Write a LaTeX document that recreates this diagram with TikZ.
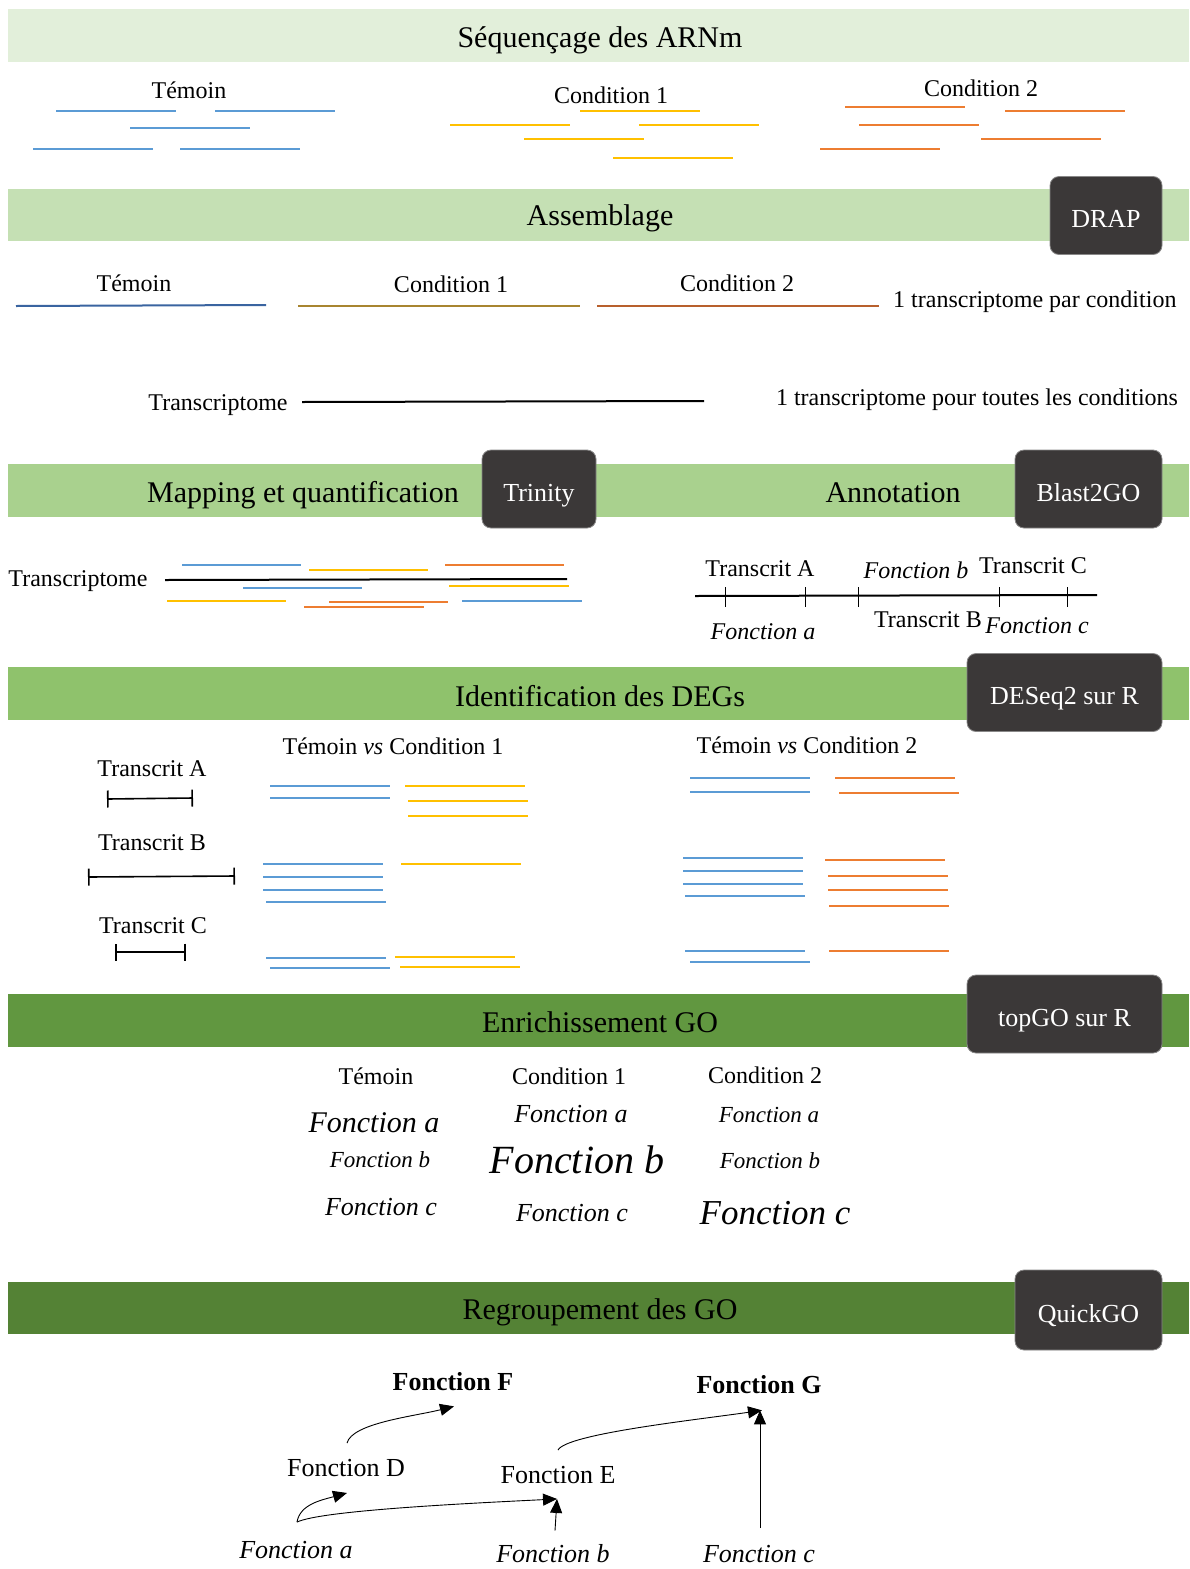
\documentclass[tikz,border=0pt]{standalone}
\usepackage{fontspec}
\setmainfont{Liberation Serif}
\usetikzlibrary{arrows.meta}
\newcommand{\myfs}[1]{\fontsize{#1}{#1}\selectfont}
\definecolor{bandA}{HTML}{E2EFDA}
\definecolor{bandB}{HTML}{C5E0B4}
\definecolor{bandC}{HTML}{A9D18E}
\definecolor{bandD}{HTML}{8FC26C}
\definecolor{bandE}{HTML}{619740}
\definecolor{bandF}{HTML}{548235}
\definecolor{toolgray}{HTML}{3B3838}
\definecolor{rblue}{HTML}{5B9BD5}
\definecolor{ryellow}{HTML}{FFC000}
\definecolor{rorange}{HTML}{ED7D31}
\definecolor{tblue}{HTML}{3A64A0}
\definecolor{tolive}{HTML}{A88530}
\definecolor{tbrown}{HTML}{B8602D}
\tikzset{
  band/.style={fill=#1, draw=none, minimum width=1181pt, minimum height=53pt, inner sep=0pt, anchor=north west},
  tool/.style={fill=toolgray, draw=toolgray!60!white, line width=0.8pt, rounded corners=9pt, text=white, font=\myfs{26}, inner sep=0pt, minimum height=78pt, text height=26pt, text depth=2pt},
  title/.style={font=\myfs{30}, inner sep=0pt},
  lab/.style={font=\myfs{24}, inner sep=0pt},
  ital/.style={font=\myfs{#1}\itshape, inner sep=0pt},
  big/.style={font=\myfs{26}, inner sep=0pt},
  bigb/.style={font=\myfs{26}\bfseries, inner sep=0pt},
  rb/.style={draw=rblue, line width=2.4pt},
  ry/.style={draw=ryellow, line width=2.4pt},
  ro/.style={draw=rorange, line width=2.4pt},
  seg/.style={line width=1.6pt, {Bar[width=17pt]}-{Bar[width=17pt]}},
  arr/.style={-{Triangle[length=14pt,width=12pt]}, line width=0.9pt},
}
\begin{document}
\begin{tikzpicture}[x=1pt,y=-1pt]
\useasboundingbox (0,0) rectangle (1189,1569);
\fill[white] (0,0) rectangle (1189,1569);

% ---------- bands
\node[band=bandA] (b1) at (8,9) {};
\node[band=bandB, minimum height=52pt] (b2) at (8,189) {};
\node[band=bandC] (b3) at (8,464) {};
\node[band=bandD] (b4) at (8,667) {};
\node[band=bandE] (b5) at (8,994) {};
\node[band=bandF, minimum height=52pt] (b6) at (8,1282) {};

\node[title] (t1) at (600,40) {Séquençage des ARNm};
\node[title] (t2) at (600,218) {Assemblage};
\node[title] (t3) at (303,495) {Mapping et quantification};
\node[title] (t3b) at (893,493) {Annotation};
\node[title] (t4) at (600,696) {Identification des DEGs};
\node[title] (t5) at (600,1022) {Enrichissement GO};
\node[title] (t6) at (600,1312) {Regroupement des GO};

% ---------- tool boxes
\node[tool, minimum width=112pt] (drap) at (1106,215.5) {DRAP};
\node[tool, minimum width=114pt] (trin) at (539,489) {Trinity};
\node[tool, minimum width=147pt] (blast) at (1088.5,489) {Blast2GO};
\node[tool, minimum width=195pt] (deseq) at (1064.5,692.5) {DESeq2 sur R};
\node[tool, minimum width=195pt] (topgo) at (1064.5,1014) {topGO sur R};
\node[tool, minimum width=147pt, minimum height=80pt] (quick) at (1088.5,1310) {QuickGO};

% ---------- sequencing reads
\node[lab] (s1) at (189,90) {Témoin};
\node[lab] (s2) at (611,95) {Condition 1};
\node[lab] (s3) at (981,88) {Condition 2};
\foreach \xa/\yy in {56/111,215/111,130/128,33/149,180/149}
  \draw[rb] (\xa,\yy) -- ++(120,0);
\foreach \xa/\yy in {580/111,450/125,639/125,524/139,613/158}
  \draw[ry] (\xa,\yy) -- ++(120,0);
\foreach \xa/\yy in {845/107,1005/111,859/125,981/139,820/149}
  \draw[ro] (\xa,\yy) -- ++(120,0);

% ---------- assembly
\node[lab] (a1) at (134,283) {Témoin};
\node[lab] (a2) at (451,284) {Condition 1};
\node[lab] (a3) at (737,283) {Condition 2};
\draw[tblue, line width=2pt] (16,306) -- (266,305);
\draw[tolive, line width=2pt] (298,306) -- (580,306);
\draw[tbrown, line width=2pt] (597,306) -- (879,306);
\node[lab, anchor=west] (a4) at (893,302) {1 transcriptome par condition};
\node[lab] (tr1) at (218,405) {Transcriptome};
\draw[line width=2pt] (302,402) -- (704,401);
\node[lab] (a5) at (977,400) {1 transcriptome pour toutes les conditions};

% ---------- mapping
\node[lab] (tr2) at (78,581) {Transcriptome};
\draw[line width=2pt] (165,580) -- (567,579);
\draw[rb] (182,565) -- ++(119,0);
\draw[ry] (309,570) -- ++(119,0);
\draw[ro] (445,565) -- ++(119,0);
\draw[rb] (243,588) -- ++(119,0);
\draw[ry] (449,586) -- ++(120,0);
\draw[ry] (167,601) -- ++(119,0);
\draw[ro] (329,602) -- ++(119,0);
\draw[ro] (304,607) -- ++(120,0);
\draw[rb] (462,601) -- ++(120,0);

% ---------- annotation
\draw[line width=2pt] (695,596) -- (1097,595);
\foreach \xx in {725,805,858,999,1067}
  \draw[line width=1pt] (\xx,587) -- (\xx,607);
\node[lab] (n1) at (760,569) {Transcrit A};
\node[ital=24] (n2) at (916,570) {Fonction b};
\node[lab] (n3) at (1033,566) {Transcrit C};
\node[ital=24] (n4) at (763,632) {Fonction a};
\node[lab] (n5) at (928,620) {Transcrit B};
\node[ital=24] (n6) at (1037,626) {Fonction c};

% ---------- DEGs
\node[lab] (d1) at (393,746) {Témoin \textit{vs} Condition 1};
\node[lab] (d2) at (807,745) {Témoin \textit{vs} Condition 2};
\node[lab] (dA) at (152,769) {Transcrit A};
\node[lab] (dB) at (152,843) {Transcrit B};
\node[lab] (dC) at (153,926) {Transcrit C};
\draw[seg] (107,799) -- (193,798);
\draw[seg] (88,877) -- (235,876);
\draw[seg] (115,952) -- (186,952);
% condition 1
\foreach \xa/\yy in {270/786,270/798,263/864,263/877,263/890,266/902,266/958,270/968}
  \draw[rb] (\xa,\yy) -- ++(120,0);
\foreach \xa/\yy in {405/786,408/801,408/816,401/864,395/957,400/967}
  \draw[ry] (\xa,\yy) -- ++(120,0);
% condition 2
\foreach \xa/\yy in {690/778,690/792,683/858,683/871,683/884,685/896,685/951,690/962}
  \draw[rb] (\xa,\yy) -- ++(120,0);
\foreach \xa/\yy in {835/778,839/793,825/860,828/876,828/890,829/906,829/951}
  \draw[ro] (\xa,\yy) -- ++(120,0);

% ---------- enrichment
\node[lab] (e1) at (376,1076) {Témoin};
\node[lab] (e2) at (569,1076) {Condition 1};
\node[lab] (e3) at (765,1075) {Condition 2};
\node[ital=30] (e1a) at (374,1123) {Fonction a};
\node[ital=23] (e1b) at (380,1160) {Fonction b};
\node[ital=26] (e1c) at (381,1207) {Fonction c};
\node[ital=26] (e2a) at (571,1114) {Fonction a};
\node[ital=40] (e2b) at (577,1160) {Fonction b};
\node[ital=26] (e2c) at (572,1213) {Fonction c};
\node[ital=23] (e3a) at (769,1115) {Fonction a};
\node[ital=23] (e3b) at (770,1161) {Fonction b};
\node[ital=35] (e3c) at (775,1213) {Fonction c};

% ---------- grouping
\node[bigb] (fF) at (453,1382) {Fonction F};
\node[bigb] (fG) at (759,1385) {Fonction G};
\node[big] (fD) at (346,1468) {Fonction D};
\node[big] (fE) at (558,1475) {Fonction E};
\node[ital=26] (fa) at (296,1550) {Fonction a};
\node[ital=26] (fb) at (553,1554) {Fonction b};
\node[ital=26] (fc) at (759,1554) {Fonction c};

% D -> F
\draw[arr] ([xshift=1pt,yshift=16pt]fD.north) .. controls +(5,-20) and +(-40,10) .. ([xshift=1pt,yshift=-15pt]fF.south);
% a -> D
\draw[arr] ([xshift=1pt,yshift=19pt]fa.north) .. controls +(3,-18) and +(-25,7) .. ([xshift=1pt,yshift=-16pt]fD.south);
% a -> E
\draw[arr] ([xshift=1pt,yshift=19pt]fa.north) .. controls +(25,-12) and +(-80,4) .. ([xshift=-1pt,yshift=-15pt]fE.south);
% b -> E
\draw[arr] ([xshift=2pt,yshift=14pt]fb.north) -- ([xshift=-1pt,yshift=-15pt]fE.south);
% E -> G
\draw[arr] ([xshift=0pt,yshift=16pt]fE.north) .. controls +(8,-16) and +(-70,10) .. ([xshift=3pt,yshift=-16pt]fG.south);
% c -> G
\draw[arr] ([xshift=1pt,yshift=17pt]fc.north) -- ([xshift=1pt,yshift=-16pt]fG.south);
\end{tikzpicture}
\end{document}
